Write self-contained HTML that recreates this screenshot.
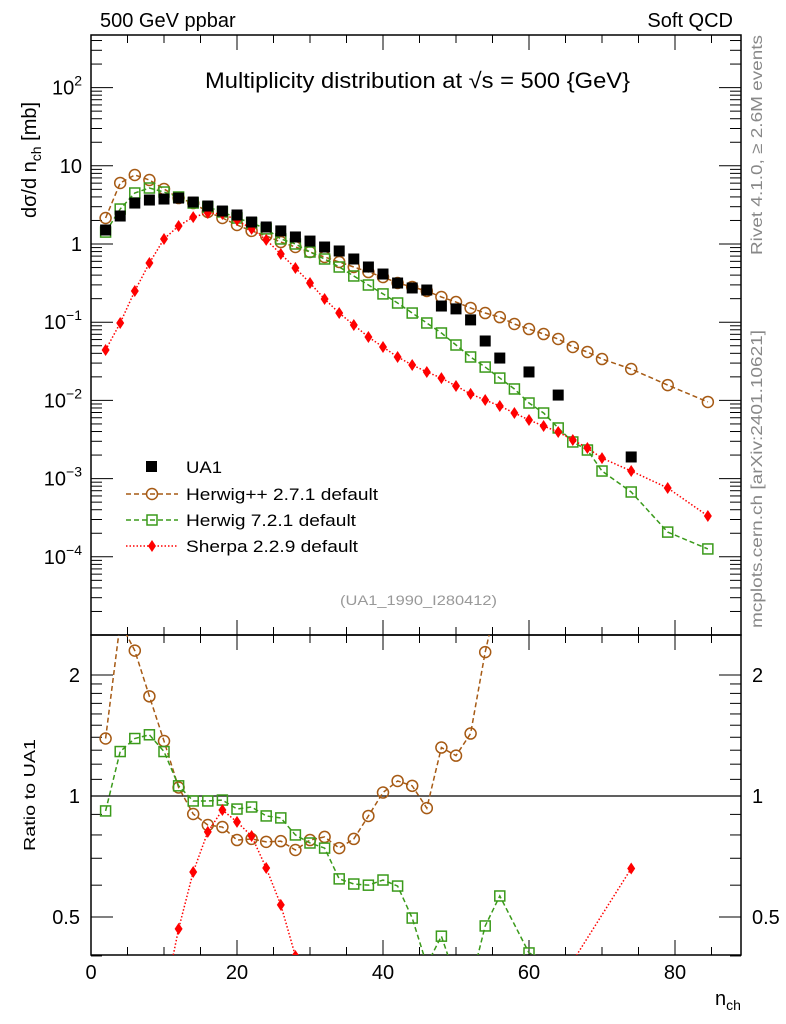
<!DOCTYPE html>
<html><head><meta charset="utf-8"><style>
html,body{margin:0;background:#fff;overflow:hidden;width:786px;height:1024px}
svg{display:block}
svg text{font-family:"Liberation Sans",sans-serif}
</style></head><body>
<svg id="c" width="786" height="1024" xmlns="http://www.w3.org/2000/svg">
<defs>
<clipPath id="cm"><rect x="91" y="35" width="650" height="600"/></clipPath>
<clipPath id="cr"><rect x="91" y="635" width="650" height="320"/></clipPath>
</defs>
<g id="axes"></g>
<g id="marks"></g>
<text x="100" y="27" font-size="20">500 GeV ppbar</text>
<text x="733" y="27" font-size="20" text-anchor="end">Soft QCD</text>
<text x="205" y="88" font-size="22" textLength="425" lengthAdjust="spacingAndGlyphs">Multiplicity distribution at √s = 500 {GeV}</text>
<text transform="translate(36,160) rotate(-90)" font-size="20" text-anchor="middle">dσ/d n<tspan font-size="14" dy="5">ch</tspan><tspan dy="-5"> [mb]</tspan></text>
<text transform="translate(35,851) rotate(-90)" font-size="16" textLength="112" lengthAdjust="spacingAndGlyphs">Ratio to UA1</text>
<text transform="translate(762,255) rotate(-90)" font-size="16" fill="#888" textLength="220" lengthAdjust="spacingAndGlyphs">Rivet 4.1.0, ≥ 2.6M events</text>
<text transform="translate(762,628) rotate(-90)" font-size="16" fill="#888" textLength="298" lengthAdjust="spacingAndGlyphs">mcplots.cern.ch [arXiv:2401.10621]</text>
<text x="340" y="605" font-size="14" fill="#999" textLength="157" lengthAdjust="spacingAndGlyphs">(UA1_1990_I280412)</text>
<text x="715" y="1005" font-size="20">n<tspan font-size="14" dy="5">ch</tspan></text>
<g font-size="17">
<rect x="146" y="461" width="11" height="11" fill="#000"/>
<text x="186" y="473" textLength="36" lengthAdjust="spacingAndGlyphs">UA1</text>
<line x1="126" y1="494" x2="178" y2="494" stroke="#a65a14" stroke-width="1.5" stroke-dasharray="5,3"/>
<circle cx="152" cy="494" r="5.5" fill="none" stroke="#a65a14" stroke-width="1.5"/>
<text x="186" y="500" textLength="192" lengthAdjust="spacingAndGlyphs">Herwig++ 2.7.1 default</text>
<line x1="126" y1="520" x2="178" y2="520" stroke="#3a9a1a" stroke-width="1.5" stroke-dasharray="5,3"/>
<rect x="147" y="515" width="10" height="10" fill="none" stroke="#3a9a1a" stroke-width="1.5"/>
<text x="186" y="526" textLength="170" lengthAdjust="spacingAndGlyphs">Herwig 7.2.1 default</text>
<line x1="126" y1="546" x2="178" y2="546" stroke="#f00" stroke-width="1.5" stroke-dasharray="1.5,2"/>
<path d="M152 540 L156 546 L152 552 L148 546Z" fill="#f00"/>
<text x="186" y="552" textLength="172" lengthAdjust="spacingAndGlyphs">Sherpa 2.2.9 default</text>
</g>
</svg>
<script>
const uaN=[2,4,6,8,10,12,14,16,18,20,22,24,26,28,30,32,34,36,38,40,42,44,46,48,50,52,54,56,60,64,74];
const uaV=[1.51,2.28,3.34,3.65,3.76,3.87,3.44,3.06,2.64,2.35,1.91,1.65,1.47,1.23,1.09,0.915,0.814,0.643,0.508,0.413,0.317,0.274,0.258,0.161,0.148,0.107,0.0575,0.0348,0.0231,0.0117,0.00189];
const mcN=[2,4,6,8,10,12,14,16,18,20,22,24,26,28,30,32,34,36,38,40,42,44,46,48,50,52,54,56,58,60,62,64,66,68,70,74,79,84.5];
const hppV=[2.15,6.03,7.63,6.58,5.05,3.87,3.34,2.57,2.15,1.75,1.47,1.27,1.06,0.915,0.790,0.682,0.589,0.508,0.438,0.378,0.317,0.282,0.251,0.210,0.181,0.152,0.131,0.116,0.0948,0.0818,0.0706,0.0610,0.0482,0.0416,0.0338,0.0252,0.0157,0.00955];
const h7V=[1.42,2.80,4.49,5.20,4.62,3.99,3.34,2.97,2.57,2.15,1.86,1.56,1.16,1.0,0.790,0.643,0.508,0.390,0.299,0.230,0.176,0.131,0.0977,0.0728,0.0511,0.0359,0.0267,0.0193,0.0140,0.00926,0.00690,0.00444,0.00294,0.00232,0.00125,0.000674,0.000207,0.000126];
const shV=[0.0441,0.0977,0.251,0.571,1.16,1.70,2.21,2.49,2.42,2.03,1.56,1.13,0.745,0.493,0.317,0.198,0.131,0.0921,0.0647,0.0482,0.0359,0.0284,0.0231,0.0193,0.0153,0.0121,0.0101,0.00848,0.0069,0.00561,0.00471,0.00394,0.00312,0.00246,0.00183,0.00125,0.000759,0.000333];
const hppR=[1.39,2.7,2.30,1.77,1.37,1.05,0.902,0.847,0.837,0.777,0.782,0.769,0.772,0.734,0.777,0.791,0.742,0.782,0.892,1.02,1.09,1.06,0.933,1.32,1.26,1.43,2.28,3.3,3.5,5.2,13];
const h7R=[0.918,1.29,1.39,1.42,1.29,1.06,0.972,0.972,0.977,0.928,0.939,0.892,0.882,0.800,0.764,0.742,0.622,0.604,0.600,0.618,0.597,0.497,0.38,0.448,0.35,0.34,0.475,0.564,0.407,0.38,0.36];
const shR=[0.03,0.043,0.075,0.16,0.31,0.467,0.647,0.814,0.923,0.862,0.795,0.662,0.536,0.40,0.29,0.22,0.16,0.14,0.13,0.12,0.11,0.10,0.09,0.12,0.10,0.11,0.18,0.24,0.24,0.34,0.66];
const xTicks=[0,20,40,60,80];
const yExp=[2,1,0,-1,-2,-3,-4];
const rTicks=[0.5,1,2];

const NS="http://www.w3.org/2000/svg";
const X=n=>91+n*7.3;
const Y=v=>244-78.2*Math.log10(v);
const R=r=>796-121*Math.log2(r);
const axes=document.getElementById('axes'),marks=document.getElementById('marks');
function mk(tag,at,parent){const e=document.createElementNS(NS,tag);for(const k in at)e.setAttribute(k,at[k]);parent.appendChild(e);return e;}
let f1=mk('rect',{x:91,y:35,width:650,height:600,fill:'none',stroke:'#000','stroke-width':1.5},axes);


let f2=mk('rect',{x:91,y:635,width:650,height:320,fill:'none',stroke:'#000','stroke-width':1.5},axes);


for(let n=0;n<=88;n+=5){const L=n%20==0?15:8;const x=X(n);
 for(const [yt,yb] of [[35,635],[635,955]]){
  mk('line',{x1:x,y1:yt,x2:x,y2:yt+L,stroke:'#000'},axes);
  mk('line',{x1:x,y1:yb,x2:x,y2:yb-L,stroke:'#000'},axes);}}
xTicks.forEach(t=>{const e=mk('text',{x:X(t),y:979,'font-size':20,'text-anchor':'middle'},axes);e.textContent=t;

});
for(let d=-5;d<=2;d++){for(let m=1;m<10;m++){const v=m*Math.pow(10,d);const y=Y(v);if(y<35||y>635)continue;const L=m==1?22:11;
 mk('line',{x1:91,y1:y,x2:91+L,y2:y,stroke:'#000'},axes);mk('line',{x1:741,y1:y,x2:741-L,y2:y,stroke:'#000'},axes);}}
yExp.forEach(p=>{const y=Y(Math.pow(10,p))+7;const e=mk('text',{x:82,y:y,'font-size':20,'text-anchor':'end'},axes);
 if(p==0)e.textContent='1';else if(p==1)e.textContent='10';else{e.textContent='10';const s=mk('tspan',{dy:-9,'font-size':14},e);s.textContent=String(p).replace('-','−');}
 
 });
[0.4,0.5,0.6,0.7,0.8,0.9,1,2].forEach(r=>{const y=R(r);const L=(r==0.5||r==1||r==2)?22:11;
 mk('line',{x1:91,y1:y,x2:91+L,y2:y,stroke:'#000'},axes);mk('line',{x1:741,y1:y,x2:741-L,y2:y,stroke:'#000'},axes);});
[1.1,1.2,1.3,1.4,1.5,1.6,1.7,1.8,1.9].forEach(r=>{const y=R(r);mk('line',{x1:91,y1:y,x2:102,y2:y,stroke:'#000'},axes);mk('line',{x1:741,y1:y,x2:730,y2:y,stroke:'#000'},axes);});
rTicks.forEach(r=>{for(const [x,a] of [[80,'end'],[752,'start']]){const e=mk('text',{x:x,y:R(r)+7,'font-size':20,'text-anchor':a},axes);e.textContent=String(r);
 
 }});
let ref=mk('line',{x1:91,y1:R(1),x2:741,y2:R(1),stroke:'#000','stroke-width':1.2},axes);


const gm=mk('g',{'clip-path':'url(#cm)'},marks),gr=mk('g',{'clip-path':'url(#cr)'},marks);
function marker(type,col,x,y,g){let e;
 if(type=='sq')e=mk('rect',{x:x-5.5,y:y-5.5,width:11,height:11,fill:'#000'},g);
 else if(type=='c')e=mk('circle',{cx:x,cy:y,r:5.5,fill:'none',stroke:col,'stroke-width':1.5},g);
 else if(type=='osq')e=mk('rect',{x:x-5,y:y-5,width:10,height:10,fill:'none',stroke:col,'stroke-width':1.5},g);
 else e=mk('path',{d:`M${x} ${y-6}L${x+4} ${y}L${x} ${y+6}L${x-4} ${y}Z`,fill:col},g);
 return e;}
function series(ns,vs,fy,g,type,col,dash,name){
 if(dash){const p=mk('polyline',{points:ns.map((n,i)=>X(n)+','+fy(vs[i])).join(' '),fill:'none',stroke:col,'stroke-width':1.5,'stroke-dasharray':dash},g);
  
  }
 ns.forEach((n,i)=>{const e=marker(type,col,X(n),fy(vs[i]),g);
  
  });}
series(mcN,hppV,Y,gm,'c','#a65a14','5,3','herwigpp');
series(mcN,h7V,Y,gm,'osq','#3a9a1a','5,3','herwig7');
series(mcN,shV,Y,gm,'d','#f00','1.5,2','sherpa');
series(uaN,uaV,Y,gm,'sq','#000',null,'ua1');
series(uaN,hppR,R,gr,'c','#a65a14','5,3','herwigpp-ratio');
series(uaN,h7R,R,gr,'osq','#3a9a1a','5,3','herwig7-ratio');
series(uaN,shR,R,gr,'d','#f00','1.5,2','sherpa-ratio');
</script>
</body></html>
